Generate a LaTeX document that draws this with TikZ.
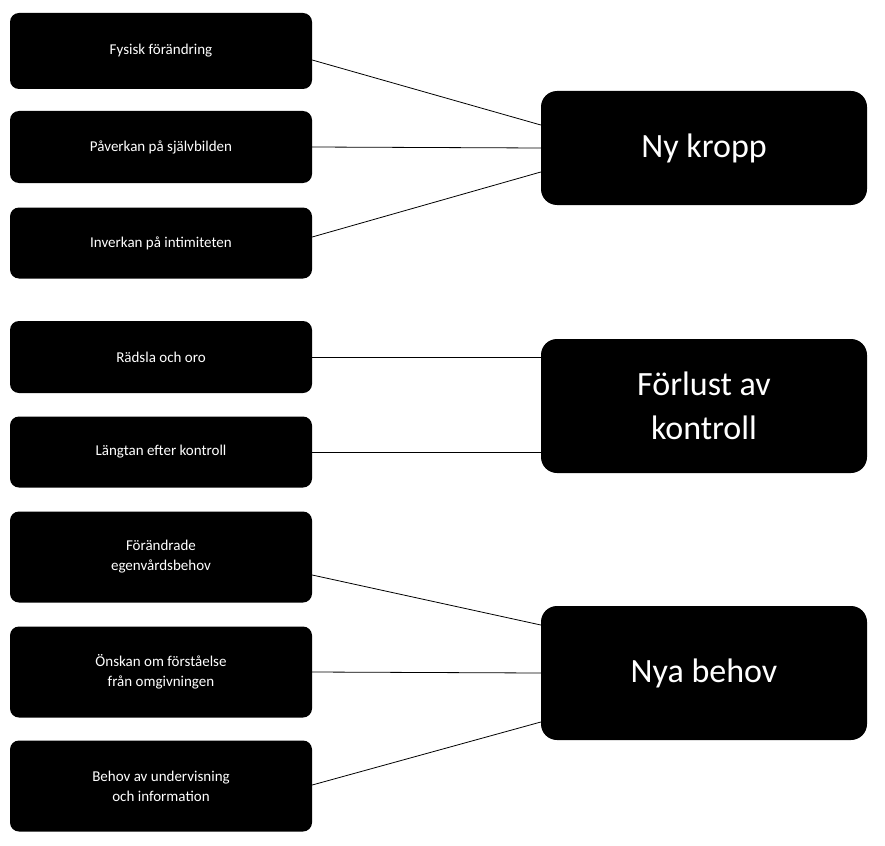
\documentclass[tikz,border=0pt]{standalone}
\usepackage{fontspec}
\setmainfont{Carlito}
\usetikzlibrary{calc}
\begin{document}
\begin{tikzpicture}[x=1pt,y=-1pt,
  sbox/.style={fill=black,text=white,rounded corners=9pt,minimum width=302pt,align=center,font=\fontsize{15}{20}\selectfont,inner sep=0pt},
  bbox/.style={fill=black,text=white,rounded corners=16pt,minimum width=326pt,align=center,font=\fontsize{34}{44}\selectfont,inner sep=0pt},
  conn/.style={draw=black,line width=0.8pt}]
\useasboundingbox (0,0) rectangle (885,845);
\node[sbox,minimum height=76pt] (a1) at (161,51) {Fysisk förändring};
\node[sbox,minimum height=72pt] (a2) at (161,147) {Påverkan på självbilden};
\node[sbox,minimum height=71pt] (a3) at (161,243) {Inverkan på intimiteten};
\node[sbox,minimum height=72pt] (b1) at (161,357) {Rädsla och oro};
\node[sbox,minimum height=71pt] (b2) at (161,452) {Längtan efter kontroll};
\node[sbox,minimum height=91pt] (c1) at (161,557) {Förändrade\\egenvårdsbehov};
\node[sbox,minimum height=91pt] (c2) at (161,672) {Önskan om förståelse\\från omgivningen};
\node[sbox,minimum height=91pt] (c3) at (161,786) {Behov av undervisning\\och information};
\node[bbox,minimum height=114pt] (A) at (704,148) {Ny kropp};
\node[bbox,minimum height=134pt] (B) at (704,406) {Förlust av\\kontroll};
\node[bbox,minimum height=134pt] (C) at (704,673) {Nya behov};
\draw[conn] ($(a1.east)+(0,9)$) -- ($(A.west)+(0,-23)$);
\draw[conn] (a2.east) -- (A.west);
\draw[conn] ($(a3.east)+(0,-6)$) -- ($(A.west)+(0,24)$);
\draw[conn] (b1.east) -- (b1.east -| B.west);
\draw[conn] (b2.east) -- (b2.east -| B.west);
\draw[conn] ($(c1.east)+(0,18)$) -- ($(C.west)+(0,-48)$);
\draw[conn] (c2.east) -- (C.west);
\draw[conn] ($(c3.east)+(0,-1)$) -- ($(C.west)+(0,49)$);
\end{tikzpicture}
\end{document}
